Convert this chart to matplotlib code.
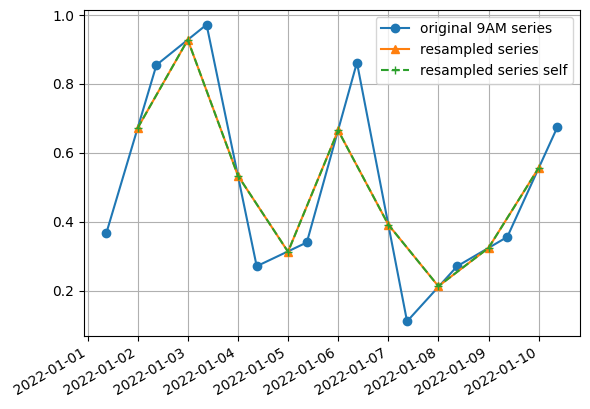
import matplotlib
matplotlib.use("Agg")
import matplotlib.pyplot as plt
import pandas as pd

# Original series, sampled daily at 9AM
orig_times = pd.date_range("2022-01-01 09:00", periods=10, freq="D")
orig_values = [0.367, 0.855, 0.972, 0.271, 0.340, 0.862, 0.111, 0.271, 0.356, 0.675]

# Resampled to midnight
res_times = pd.date_range("2022-01-02", periods=9, freq="D")
res_values = [0.672, 0.928, 0.534, 0.313, 0.665, 0.392, 0.213, 0.324, 0.556]
res_self_values = [0.672, 0.928, 0.534, 0.313, 0.665, 0.392, 0.213, 0.324, 0.556]

fig, ax = plt.subplots(figsize=(5.9, 4.09), dpi=100)
ax.plot(orig_times, orig_values, "o-", label="original 9AM series")
ax.plot(res_times, res_values, "^-", label="resampled series")
ax.plot(res_times, res_self_values, "+--", label="resampled series self")
ax.grid(True)
ax.legend(loc="upper right")
fig.autofmt_xdate()
fig.subplots_adjust(left=0.142, right=0.983, top=0.976, bottom=0.178)
fig.savefig("out.png")
